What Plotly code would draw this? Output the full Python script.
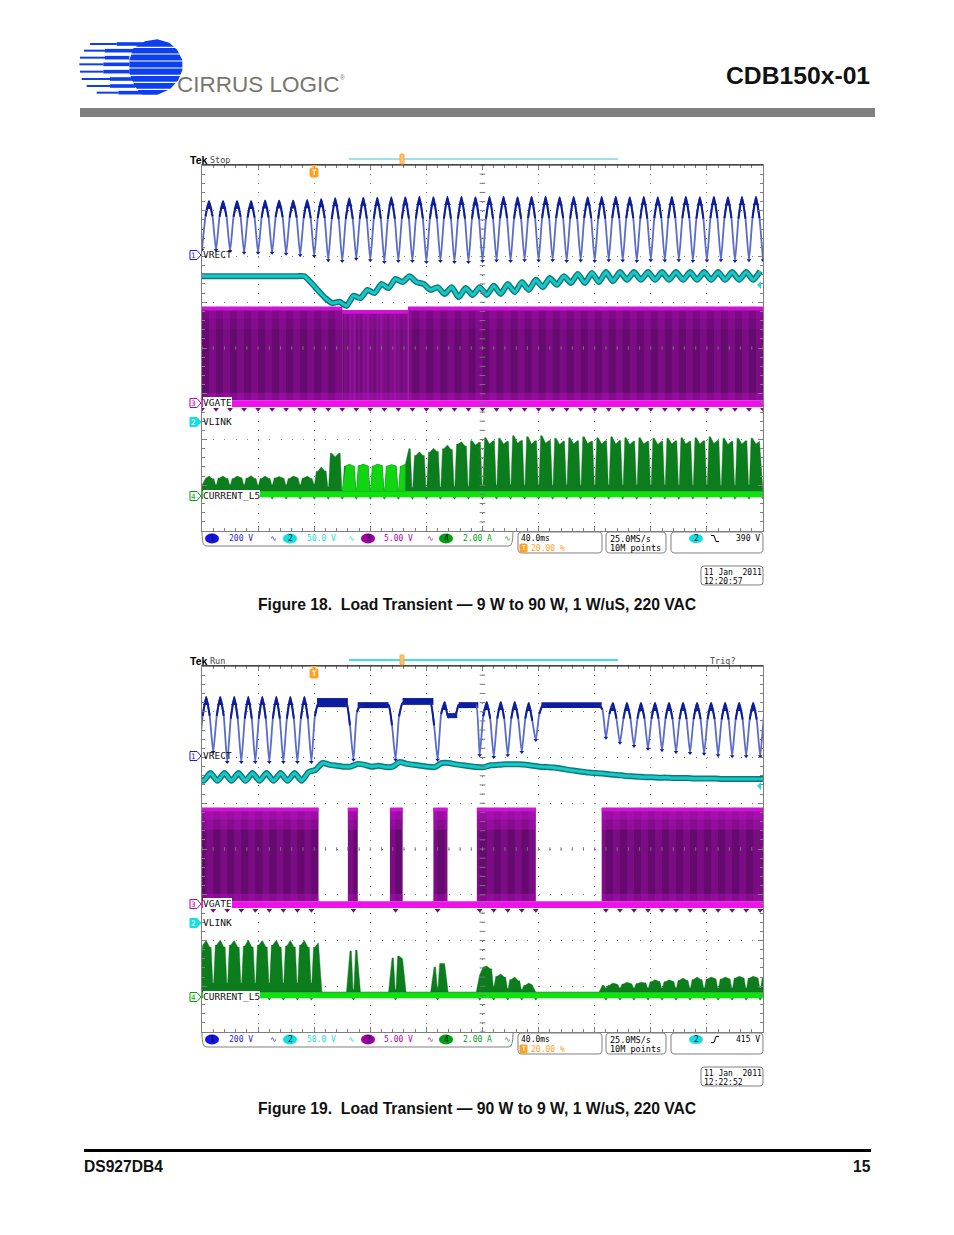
import plotly.graph_objects as go
import numpy as np

W, H = 954, 1235
TITLE = "CDB150x-01"
DOC_ID = "DS927DB4"
PAGE_NO = "15"
CAPTION_1 = "Figure 18.\u00a0\u00a0Load Transient \u2014 9 W to 90 W, 1 W/uS, 220 VAC"
CAPTION_2 = "Figure 19.\u00a0\u00a0Load Transient \u2014 90 W to 9 W, 1 W/uS, 220 VAC"

# ---- values in graticule divisions (0 = bottom of screen, 8 = top); time in ms
VRECT_1 = [
 6.15,6.88,7.21,6.88, 6.14,6.87,7.21,6.87, 6.12,6.87,7.21,6.87, 6.08,6.85,7.21,6.85,
 6.08,6.85,7.22,6.85, 6.08,6.86,7.22,6.86, 6.06,6.85,7.22,6.85, 6.03,6.84,7.23,6.84,
 6.01,6.84,7.25,6.84, 5.92,6.82,7.27,6.82, 5.90,6.82,7.27,6.82, 5.95,6.83,7.28,6.83,
 5.92,6.83,7.28,6.83, 5.88,6.82,7.29,6.82, 5.90,6.83,7.29,6.83, 5.90,6.83,7.30,6.83,
 5.88,6.83,7.29,6.83, 5.90,6.83,7.30,6.83, 5.88,6.83,7.30,6.83, 5.88,6.83,7.29,6.83,
 5.90,6.83,7.30,6.83, 5.91,6.84,7.30,6.84, 5.90,6.83,7.29,6.83, 5.92,6.84,7.30,6.84,
 5.91,6.84,7.30,6.84, 5.92,6.84,7.29,6.84, 5.90,6.83,7.30,6.83, 5.91,6.84,7.29,6.84,
 5.90,6.83,7.30,6.83, 5.92,6.84,7.30,6.84, 5.91,6.84,7.29,6.84, 5.90,6.83,7.30,6.83,
 5.92,6.84,7.29,6.84, 5.91,6.84,7.30,6.84, 5.92,6.84,7.30,6.84, 5.90,6.83,7.29,6.83,
 5.91,6.84,7.30,6.84, 5.92,6.84,7.29,6.84, 5.90,6.83,7.30,6.83, 5.92,6.84,7.30,6.84,
 5.92,
]
VRECT_2 = [
 6.12,6.91,7.32,6.91, 6.12,6.91,7.32,6.91, 5.90,6.85,7.32,6.85, 5.90,6.85,7.32,6.85,
 5.90,6.85,7.32,6.85, 5.90,6.85,7.32,6.85, 5.90,6.85,7.32,6.85, 5.90,6.85,7.32,6.85,
 5.90,6.90,7.19,7.19, 7.19,7.19,7.19,7.19, 7.19,7.19,7.19,6.70, 5.95,7.00,7.15,7.15,
 7.15,7.15,7.15,7.15, 7.15,7.15,7.15,6.70, 5.95,6.90,7.19,7.19, 7.19,7.19,7.19,7.19,
 7.19,7.19,7.19,6.70, 5.95,6.95,7.21,6.88, 6.90,6.90,7.15,7.15, 7.15,7.15,7.15,7.15,
 6.05,6.90,7.21,6.85, 6.01,6.85,7.21,6.85, 6.05,6.85,7.21,6.85, 6.12,6.85,7.19,6.80,
 6.38,6.95,7.15,7.15, 7.15,7.15,7.15,7.15, 7.15,7.15,7.15,7.15, 7.15,7.15,7.15,7.15,
 7.15,7.15,7.15,7.05, 6.43,6.95,7.19,6.85, 6.32,6.85,7.19,6.85, 6.25,6.85,7.19,6.85,
 6.19,6.85,7.19,6.85, 6.16,6.85,7.19,6.84, 6.12,6.84,7.19,6.84, 6.10,6.84,7.19,6.84,
 6.08,6.84,7.19,6.84, 6.05,6.83,7.19,6.83, 6.03,6.83,7.19,6.83, 6.03,6.83,7.19,6.83,
 6.03,6.83,7.19,6.80, 6.60,
]
# plateau bands of the second VRECT trace (start ms, end ms, top, bottom)
BAND_2_START = [82, 111, 143, 175, 183, 242]
BAND_2_END   = [104, 133, 165, 182, 197, 285]
BAND_2_TOP   = [7.30, 7.21, 7.30, 6.97, 7.21, 7.21]
BAND_2_BOT   = [7.10, 7.08, 7.15, 6.86, 7.08, 7.08]

VLINK_1 = [
 5.57,5.57,5.57,5.57,5.57,5.57,5.57,5.57,5.57,5.57,5.57,5.57,5.57,5.57,5.57,5.57,
 5.42,5.25,5.09,4.98,5.01,4.92,5.14,5.09,5.27,5.20,5.40,5.31,5.51,5.44,5.57,5.44,
 5.40,5.27,5.33,5.18,5.33,5.11,5.31,5.16,5.33,5.16,5.36,5.18,5.40,5.22,5.44,5.27,
 5.49,5.33,5.53,5.38,5.57,5.42,5.62,5.42,5.64,5.44,5.66,5.46,5.66,5.49,5.66,5.49,
 5.66,5.49,5.66,5.49,5.66,5.49,5.66,5.49,5.66,5.49,5.66,5.49,5.66,5.49,5.66,5.49,5.68,
]
VLINK_2 = [
 5.60,5.49,5.66,5.49,5.66,5.49,5.66,5.49,5.66,5.49,5.66,5.49,5.66,5.49,5.66,5.49,
 5.68,5.73,5.88,5.84,5.82,5.80,5.80,5.86,5.84,5.80,5.82,5.79,5.80,5.90,5.86,5.84,
 5.82,5.80,5.79,5.88,5.88,5.85,5.83,5.81,5.79,5.79,5.83,5.84,5.85,5.85,5.85,5.84,
 5.82,5.80,5.79,5.78,5.76,5.73,5.71,5.69,5.67,5.66,5.65,5.63,5.62,5.60,5.59,5.58,
 5.57,5.57,5.56,5.56,5.55,5.55,5.55,5.54,5.54,5.54,5.54,5.53,5.53,5.53,5.53,5.53,5.53,5.53,
]
CURRENT_1 = [
 1.00,1.15,1.20,1.14, 1.01,1.16,1.20,1.15, 1.01,1.15,1.20,1.16, 1.01,1.16,1.21,1.15,
 1.00,1.15,1.20,1.15, 1.01,1.16,1.19,1.15, 1.01,1.15,1.20,1.16, 1.01,1.16,1.20,1.15,
 1.03,1.30,1.40,1.31, 0.96,1.70,1.62,1.70, 0.90,1.42,1.46,1.42, 0.90,1.43,1.46,1.42,
 0.90,1.42,1.46,1.43, 0.90,1.42,1.45,1.42, 0.90,1.42,1.46,1.80, 0.95,1.65,1.73,1.65,
 0.95,1.72,1.81,1.74, 0.96,1.80,1.88,1.78, 0.97,1.90,1.95,1.86, 0.98,1.97,1.88,1.94,
 1.00,2.04,1.90,1.97, 1.00,2.03,1.90,1.96, 1.01,2.08,1.92,1.98, 1.00,2.06,1.90,1.97,
 1.01,2.08,1.92,1.98, 1.00,2.03,1.89,1.96, 1.01,2.04,1.90,1.97, 1.00,2.06,1.91,1.96,
 1.00,2.04,1.90,1.97, 1.01,2.06,1.90,1.98, 1.00,2.04,1.89,1.96, 1.01,2.04,1.90,1.96,
 1.00,2.03,1.89,1.96, 1.01,2.03,1.90,1.97, 1.00,2.04,1.90,1.96, 1.00,2.04,1.90,1.97,
 1.01,2.06,1.91,1.98, 1.00,2.03,1.89,1.96, 1.00,2.03,1.90,1.97, 1.01,2.03,1.90,1.96,
 1.00,
]
CURRENT_2 = [
 1.07,1.90,2.00,1.85, 1.07,1.90,2.01,1.86, 1.07,1.90,2.00,1.85, 1.07,1.88,2.01,1.86,
 1.07,1.90,2.00,1.86, 1.07,1.90,2.01,1.85, 1.07,1.88,2.00,1.86, 1.07,1.90,2.00,1.85,
 1.07,1.85,1.95,0.87, 0.87,0.87,0.87,0.87, 0.87,0.87,0.87,1.77, 0.93,1.79,0.87,0.87,
 0.87,0.87,0.87,0.87, 0.87,0.87,0.87,1.62, 0.93,1.66,1.60,0.87, 0.87,0.87,0.87,0.87,
 0.87,0.87,0.87,1.42, 0.98,1.50,1.50,0.87, 0.87,0.87,0.87,0.87, 0.87,0.87,0.87,0.87,
 1.25,1.42,1.44,1.38, 1.00,1.22,1.27,1.20, 0.95,1.15,1.20,1.12, 0.93,1.02,1.07,1.03,
 0.87,0.87,0.87,0.87, 0.87,0.87,0.87,0.87, 0.87,0.87,0.87,0.87, 0.87,0.87,0.87,0.87,
 0.87,0.87,0.87,1.02, 0.96,1.02,1.07,1.04, 0.96,1.05,1.09,1.05, 0.96,1.06,1.09,1.07,
 0.96,1.10,1.14,1.10, 0.96,1.10,1.14,1.10, 0.96,1.13,1.18,1.13, 0.96,1.15,1.20,1.15,
 0.96,1.16,1.20,1.16, 0.96,1.16,1.20,1.16, 0.96,1.18,1.22,1.18, 0.96,1.18,1.22,1.18,
 0.96,1.18,
]
# switching bursts of VGATE (start ms, end ms, top of envelope)
GATE_1_START = [0, 100, 147]
GATE_1_END   = [100, 147, 400]
GATE_1_TOP   = [4.90, 4.83, 4.90]
GATE_2_START = [0, 104, 134, 165, 196, 285]
GATE_2_END   = [83, 111, 143, 175, 238, 400]
GATE_2_TOP   = [4.90, 4.90, 4.90, 4.90, 4.90, 4.90]
GATE_BAND_TOP, GATE_BAND_BOT, GATE_BODY_BOT = 2.86, 2.71, 2.86
CUR_BASE, CUR_BAND_BOT = 0.87, 0.74

FIG_1 = dict(top=165, bottom=531, state="Stop", trig="", volts="390 V", rising=False,
             date="11 Jan  2011", clock="12:20:57", hline="#38c4d4", hw=1, glow=0.12)
FIG_2 = dict(top=666, bottom=1032, state="Run", trig="Trig?", volts="415 V", rising=True,
             date="11 Jan  2011", clock="12:22:52", hline="#00d0f0", hw=1.6, glow=0.30)
LEFT, RIGHT = 202, 763

SANS, MONO = "Liberation Sans", "DejaVu Sans Mono"
C_BLUE, C_CYAN, C_PURPLE, C_GREEN = "#1c1ce0", "#18dede", "#b000b0", "#00a010"
ORANGE = "#ffa020"
GREY = "#7f7f7f"

fx = lambda x: x / W
fy = lambda y: 1 - y / H

annotations, shapes = [], []


def text(x, y, s, size, color="#000", anchor="left", family=MONO, bg=None):
    annotations.append(dict(xref="paper", yref="paper", x=fx(x), y=fy(y), text=s, showarrow=False,
                            xanchor=anchor, yanchor="middle", borderpad=0, borderwidth=0,
                            bgcolor=bg, font=dict(family=family, size=size, color=color)))


def path(d, fill=None, line=None, width=1, layer="above"):
    shapes.append(dict(type="path", xref="paper", yref="paper", path=d, layer=layer,
                       fillcolor=fill or "rgba(0,0,0,0)",
                       line=dict(color=line or "rgba(0,0,0,0)", width=width if line else 0)))


def px_path(pts, close=True):
    s = " ".join(("M" if i == 0 else "L") + f"{fx(a):.5f},{fy(b):.5f}" for i, (a, b) in enumerate(pts))
    return s + (" Z" if close else "")


def hline(x0, x1, y, color, width):
    shapes.append(dict(type="line", xref="paper", yref="paper", x0=fx(x0), x1=fx(x1), y0=fy(y), y1=fy(y),
                       line=dict(color=color, width=width), layer="above"))


def rrect(x0, y0, x1, y1, r=3, fill=None, line=GREY, width=1):
    d = (f"M{fx(x0+r):.5f},{fy(y0):.5f} L{fx(x1-r):.5f},{fy(y0):.5f} "
         f"Q{fx(x1):.5f},{fy(y0):.5f} {fx(x1):.5f},{fy(y0+r):.5f} L{fx(x1):.5f},{fy(y1-r):.5f} "
         f"Q{fx(x1):.5f},{fy(y1):.5f} {fx(x1-r):.5f},{fy(y1):.5f} L{fx(x0+r):.5f},{fy(y1):.5f} "
         f"Q{fx(x0):.5f},{fy(y1):.5f} {fx(x0):.5f},{fy(y1-r):.5f} L{fx(x0):.5f},{fy(y0+r):.5f} "
         f"Q{fx(x0):.5f},{fy(y0):.5f} {fx(x0+r):.5f},{fy(y0):.5f} Z")
    path(d, fill, line, width)


def pill(cx, cy, rx, ry, fill, label):
    shapes.append(dict(type="circle", xref="paper", yref="paper", x0=fx(cx-rx), x1=fx(cx+rx),
                       y0=fy(cy-ry), y1=fy(cy+ry), fillcolor=fill, line=dict(width=0), layer="above"))
    text(cx, cy, label, 8, "#001030", "center")


def badge(y, color, label, filled=False):
    path(px_path([(190, y-4.5), (197, y-4.5), (201, y), (197, y+4.5), (190, y+4.5)]),
         fill=color if filled else "#ffffff", line=color, width=1)
    text(193.5, y, label, 7.5, "#ffffff" if filled else color, "center")


def area(fig, xa, ya, x, y, base, color, line):
    """Filled envelope; the dip of every half-cycle is kept as a narrow notch between full-height columns."""
    xs, ys = [], []
    for i, (a, b) in enumerate(zip(x, y)):
        if i % 4 == 0 and 0 < i < len(y) - 1 and b < min(y[i - 1], y[i + 1]) - 0.05:
            xs += [a - 1.5, a - 0.3, a + 0.3, a + 1.5]
            ys += [y[i - 1], b, b, y[i + 1]]
        else:
            xs.append(a)
            ys.append(b)
    fig.add_trace(go.Scatter(x=xs + [xs[-1], xs[0]], y=ys + [base, base], xaxis=xa, yaxis=ya, mode="lines",
                             fill="toself", fillcolor=color, line=dict(color=line, width=0.4),
                             hoverinfo="skip", showlegend=False))


def bars(fig, xa, ya, start, end, top, bot, color):
    s, e = np.array(start, float), np.array(end, float)
    fig.add_trace(go.Bar(x=(s + e) / 2, width=e - s, base=list(bot), y=list(np.array(top) - np.array(bot)),
                         xaxis=xa, yaxis=ya, marker=dict(color=color, line=dict(width=0)),
                         hoverinfo="skip", showlegend=False))


def line(fig, xa, ya, x, y, color, width, **kw):
    fig.add_trace(go.Scatter(x=x, y=y, xaxis=xa, yaxis=ya, mode="lines", connectgaps=False,
                             line=dict(color=color, width=width, **kw), hoverinfo="skip", showlegend=False))


def scope(fig, n, cfg, t0_v, vrect, t0_l, vlink, current, g_s, g_e, g_t, bands=None, bright=None, burst=None):
    xa, ya = f"x{n}" if n > 1 else "x", f"y{n}" if n > 1 else "y"
    axis = dict(showticklabels=False, zeroline=False, showgrid=True, gridcolor="#808080", gridwidth=1,
                showline=True, linecolor=GREY, linewidth=1, mirror="allticks", ticks="inside",
                tickcolor=GREY, ticklen=5, fixedrange=True)
    fig.update_layout({
        f"xaxis{n if n>1 else ''}": dict(axis, domain=[fx(LEFT), fx(RIGHT)], range=[0, 400], tick0=0, dtick=40,
                                         griddash="1px,8.15px", anchor=ya,
                                         minor=dict(dtick=8, ticks="inside", ticklen=3, tickcolor=GREY)),
        f"yaxis{n if n>1 else ''}": dict(axis, domain=[fy(cfg['bottom']), fy(cfg['top'])], range=[0, 8], tick0=0, dtick=1,
                                         griddash="1px,10.22px", anchor=xa,
                                         minor=dict(dtick=0.2, ticks="inside", ticklen=3, tickcolor=GREY)),
    })
    # VGATE
    nw = len(g_s)
    bars(fig, xa, ya, g_s, g_e, g_t, [GATE_BODY_BOT] * nw, "#7c0c84")
    st, en, tp = [], [], []
    for a, b, h in zip(g_s, g_e, g_t):
        for c in np.arange(0, 400, 10):
            l, r = max(a, c + t0_v), min(b, c + t0_v + 5)
            if r > l:
                st.append(l); en.append(r); tp.append(h)
    bars(fig, xa, ya, st, en, tp, [GATE_BODY_BOT] * len(st), "rgba(50,5,60,0.30)")
    if burst:
        bars(fig, xa, ya, [burst[0]], [burst[1]], [4.83], [GATE_BODY_BOT], "rgba(205,40,215,0.24)")
        sx = np.arange(burst[0], burst[1], 3.2)
        bars(fig, xa, ya, sx, sx + 1.4, [4.83] * len(sx), [GATE_BODY_BOT] * len(sx), "rgba(70,5,80,0.28)")
    glow = cfg["glow"]
    bars(fig, xa, ya, g_s, g_e, [v - 0.08 for v in g_t], [4.64] * nw, f"rgba(205,20,215,{glow})")
    bars(fig, xa, ya, g_s, g_e, [v - 0.08 for v in g_t], [4.42] * nw, f"rgba(205,20,215,{glow})")
    bars(fig, xa, ya, g_s, g_e, g_t, [v - 0.08 for v in g_t], "#d212d8")
    bars(fig, xa, ya, g_s, g_e, [3.02] * nw, [GATE_BAND_TOP] * nw, "rgba(205,20,215,0.30)")
    bars(fig, xa, ya, [0], [400], [GATE_BAND_TOP], [GATE_BAND_BOT], "#ee12ea")
    # CURRENT
    bars(fig, xa, ya, [0], [400], [CUR_BASE], [CUR_BAND_BOT], "#0ce40c")
    tc = t0_v + 2.5 * np.arange(len(current))
    area(fig, xa, ya, tc, current, CUR_BASE, "#0c7d1c", "#0a6a18")
    if bright:
        i0, i1 = bright
        area(fig, xa, ya, tc[i0:i1], current[i0:i1], CUR_BASE, "#10d612", "#0ea812")
    # VRECT
    tv = t0_v + 2.5 * np.arange(len(vrect))
    if bands:
        bars(fig, xa, ya, bands[0], bands[1], bands[2], bands[3], "#0c1e9e")
    dips = [i for i in range(0, len(vrect), 4)
            if vrect[i] < min(vrect[max(i - 1, 0):i + 2]) + 0.01 and vrect[i] < 6.7]
    line(fig, xa, ya, tv, vrect, "#5a6cc8", 1.8, shape="spline", smoothing=0.5)
    caps = [None if i in dips else v for i, v in enumerate(vrect)]
    line(fig, xa, ya, tv, caps, "#0c1e9e", 2.0, shape="spline", smoothing=0.5)
    tips = [i for i in range(2, len(vrect) - 1, 4) if vrect[i - 1] < vrect[i] - 0.1 and vrect[i + 1] < vrect[i] - 0.1]
    fig.add_trace(go.Scatter(x=[tv[i] for i in tips], y=[vrect[i] - 0.14 for i in tips], xaxis=xa, yaxis=ya,
                             mode="markers", marker=dict(symbol="triangle-up", color="#0c1e9e", size=6),
                             hoverinfo="skip", showlegend=False))
    fig.add_trace(go.Scatter(x=[tv[i] for i in dips], y=[vrect[i] for i in dips], xaxis=xa, yaxis=ya, mode="markers",
                             marker=dict(symbol="triangle-down", color="#0c1e9e", size=4),
                             hoverinfo="skip", showlegend=False))
    # VLINK
    tl = t0_l + 5 * np.arange(len(vlink))
    line(fig, xa, ya, tl, vlink, "#0b7878", 6, shape="spline", smoothing=0.6)
    line(fig, xa, ya, tl, vlink, "#18c6c6", 3.2, shape="spline", smoothing=0.6)
    # glitch ticks under the gate and current bands
    ticks_t = [tv[i] for i in dips]
    fig.add_trace(go.Scatter(x=ticks_t, y=[2.66] * len(ticks_t), xaxis=xa, yaxis=ya, mode="markers",
                             marker=dict(symbol="triangle-down", color="#6c1078", size=5),
                             hoverinfo="skip", showlegend=False))
    fig.add_trace(go.Scatter(x=ticks_t, y=[0.72] * len(ticks_t), xaxis=xa, yaxis=ya, mode="markers",
                             marker=dict(symbol="triangle-down", color="#0c7d1c", size=3),
                             hoverinfo="skip", showlegend=False))
    # centre cross of the graticule
    yy = np.arange(0, 8.01, 0.2); xx = np.arange(0, 400.1, 8)
    fig.add_trace(go.Scatter(x=[200] * len(yy), y=yy, xaxis=xa, yaxis=ya, mode="markers",
                             marker=dict(symbol="line-ew", size=4, line=dict(color="#777", width=1)),
                             hoverinfo="skip", showlegend=False))
    fig.add_trace(go.Scatter(x=xx, y=[4] * len(xx), xaxis=xa, yaxis=ya, mode="markers",
                             marker=dict(symbol="line-ns", size=2.5, line=dict(color="#777", width=1)),
                             hoverinfo="skip", showlegend=False))
    # scope furniture
    top, bot = cfg["top"], cfg["bottom"]
    hline(LEFT, RIGHT, top, "#111", 1)
    text(190, top - 5.5, "<b>Tek</b>", 10.5, "#000", family=SANS)
    text(210, top - 5.5, cfg["state"], 8.5, "#444")
    if cfg["trig"]:
        text(710, top - 5.5, cfg["trig"], 8.5, "#444")
    hline(349, 618, top - 6, cfg["hline"], cfg["hw"])
    rrect(400, top - 11, 404, top - 1, r=1, fill="#ffc878", line=ORANGE)
    path(px_path([(310, top), (318, top), (314, top + 2.5)]), fill=ORANGE)
    rrect(310, top + 3, 318, top + 12, r=1.5, fill=ORANGE, line=ORANGE)
    text(314, top + 7.5, "<b>T</b>", 7.5, "#fff", "center")
    for y, lab, col, ch, filled, bg in [(top + 90, "VRECT", C_BLUE, "1", False, None),
                                        (top + 238, "VGATE", C_PURPLE, "3", False, "#fff"),
                                        (top + 257, "VLINK", C_CYAN, "2", True, None),
                                        (top + 331, "CURRENT_L5", C_GREEN, "4", False, "#fff")]:
        badge(y, col, ch, filled)
        text(203, y - 0.5, lab, 9.5, "#111", bg=bg)
    cy = top + 120
    path(px_path([(761, cy - 4), (761, cy + 4), (757, cy)]), fill="#20d8e8")
    # readouts
    b0, b1 = bot + 1, bot + 15
    path(f"M{fx(202):.5f},{fy(b0):.5f} Q{fx(202):.5f},{fy(b1):.5f} {fx(206):.5f},{fy(b1):.5f} "
         f"L{fx(509):.5f},{fy(b1):.5f} Q{fx(513):.5f},{fy(b1):.5f} {fx(513):.5f},{fy(b0):.5f}", line=GREY)
    rt = bot + 7.5
    pill(212, rt, 7, 5, "#1414e8", "1")
    text(229, rt, "200 V", 8, C_BLUE)
    text(273, rt, "\u223f", 8, C_BLUE, "center")
    pill(290, rt, 7, 5, "#14dede", "2")
    text(307, rt, "50.0 V", 8, C_CYAN)
    text(351, rt, "\u223f", 8, C_CYAN, "center")
    pill(368, rt, 7, 5, "#a000a0", "3")
    text(384, rt, "5.00 V", 8, C_PURPLE)
    text(430, rt, "\u223f", 8, C_PURPLE, "center")
    pill(446, rt, 7, 5, "#00a010", "4")
    text(463, rt, "2.00 A", 8, C_GREEN)
    text(508, rt, "\u223f", 8, C_GREEN, "center")
    rrect(518, bot + 1, 602, bot + 22, r=4)
    rrect(606, bot + 1, 666, bot + 22, r=4)
    rrect(671, bot + 1, 763, bot + 22, r=4)
    text(521, rt, "40.0ms", 8, "#000")
    rrect(520, bot + 13, 527, bot + 21, r=0.5, fill=ORANGE, line=ORANGE)
    text(523.5, bot + 17, "<b>T</b>", 6.5, "#fff", "center")
    text(531, bot + 17, "20.00 %", 8, ORANGE)
    text(610, rt, "25.0MS/s", 8.5, "#000")
    text(610, bot + 17, "10M points", 8.5, "#000")
    pill(696, rt, 7, 4.5, "#14dede", "2")
    if cfg["rising"]:
        pts = [(711, rt + 3), (714, rt + 3), (716, rt - 3), (719, rt - 3)]
    else:
        pts = [(711, rt - 3), (714, rt - 3), (716, rt + 3), (719, rt + 3)]
    path(px_path(pts, close=False), line="#000", width=1)
    text(760, rt, cfg["volts"], 8, "#000", "right")
    rrect(701, bot + 35, 763, bot + 54, r=3)
    text(704, bot + 41, cfg["date"], 8, "#000")
    text(704, bot + 50, cfg["clock"], 8, "#000")


fig = go.Figure()
scope(fig, 1, FIG_1, 0, VRECT_1, -2, VLINK_1, CURRENT_1, GATE_1_START, GATE_1_END, GATE_1_TOP,
      bright=(40, 59), burst=(100, 147))
scope(fig, 2, FIG_2, -2, VRECT_2, -4, VLINK_2, CURRENT_2, GATE_2_START, GATE_2_END, GATE_2_TOP,
      bands=(BAND_2_START, BAND_2_END, BAND_2_TOP, BAND_2_BOT))

# page furniture
text(870, 75, f"<b>{TITLE}</b>", 24.7, "#111", "right", SANS)
shapes.append(dict(type="rect", xref="paper", yref="paper", x0=fx(80), x1=fx(875), y0=fy(117), y1=fy(108),
                   fillcolor="#808080", line=dict(width=0), layer="above"))
text(477, 604.5, f"<b>{CAPTION_1}</b>", 15.7, "#111", "center", SANS)
text(477, 1108.5, f"<b>{CAPTION_2}</b>", 15.7, "#111", "center", SANS)
hline(84, 871, 1150.5, "#000", 3)
text(84, 1166, f"<b>{DOC_ID}</b>", 15.6, "#111", "left", SANS)
text(871, 1166, f"<b>{PAGE_NO}</b>", 15.6, "#111", "right", SANS)

# logo
LOGO_BLUE = "#0c3ff0"
lx = lambda v: 70 + v / 3
ly = lambda v: 30 + v / 3
core = [(225, 34), (262, 28), (298, 38), (322, 60), (337, 90), (337, 120), (325, 150), (300, 178), (262, 194),
        (215, 194), (195, 170), (178, 130), (178, 90), (190, 55)]
path(px_path([(lx(a), ly(b)) for a, b in core]), fill=LOGO_BLUE)
stripes = [(42, 60, 140, 225), (62, 42, 105, 190), (83, 30, 105, 178), (103, 28, 100, 178),
           (125, 30, 100, 178), (147, 35, 120, 190), (168, 50, 120, 195), (188, 80, 145, 215)]
for y, a, b, c in stripes:
    hline(lx(a), lx(b), ly(y), LOGO_BLUE, 2)
    hline(lx(b), lx(c), ly(y), LOGO_BLUE, 3.6)
for y in [52, 72, 93, 114, 136, 157, 178]:
    hline(lx(100), lx(345), ly(y), "#ffffff", 1.2)
text(177, 85, "CIRRUS LOGIC", 22.5, "#7a756e", "left", SANS)
text(339.5, 78, "\u00ae", 6.5, "#7a756e", "left", SANS)

fig.update_layout(width=W, height=H, margin=dict(l=0, r=0, t=0, b=0, pad=0), paper_bgcolor="#fff", plot_bgcolor="#fff",
                  barmode="overlay", showlegend=False, shapes=shapes, annotations=annotations,
                  font=dict(family=SANS))
fig.write_html("out.html", config=dict(displayModeBar=False),
               post_script="document.body.style.margin='0';document.body.style.overflow='hidden';")
